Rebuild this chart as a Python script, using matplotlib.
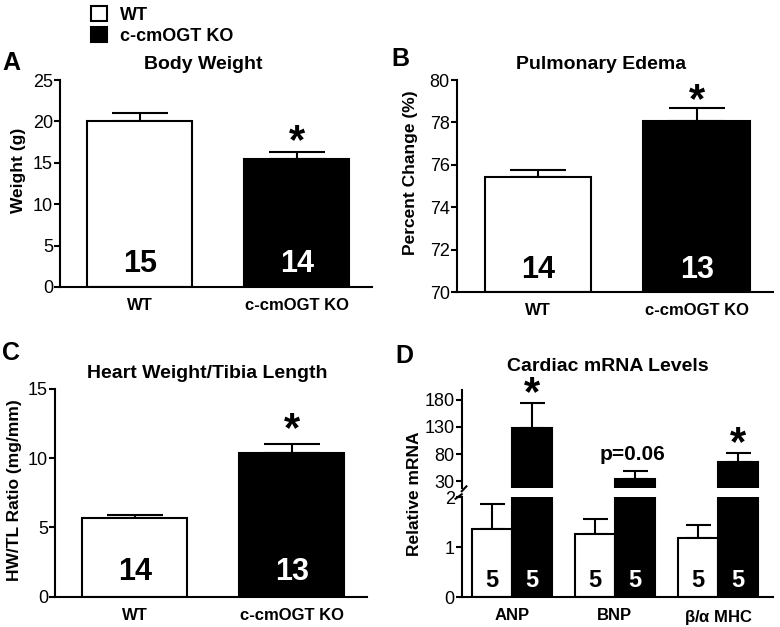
import matplotlib
matplotlib.use("Agg")
import matplotlib.pyplot as plt
import numpy as np

plt.rcParams['font.family'] = ['Liberation Sans', 'DejaVu Sans']
plt.rcParams['mathtext.fontset'] = 'custom'
plt.rcParams['mathtext.rm'] = 'Liberation Sans'

groups = ["WT", "c-cmOGT KO"]

# panel A - body weight
bw_mean = [20.1, 15.4]
bw_sem = [0.9, 0.9]
bw_n = [15, 14]

# panel B - pulmonary edema
pe_mean = [75.42, 78.05]
pe_sem = [0.35, 0.65]
pe_n = [14, 13]

# panel C - HW/TL
hw_mean = [5.7, 10.38]
hw_sem = [0.22, 0.67]
hw_n = [14, 13]

# panel D - cardiac mRNA
genes = ["ANP", "BNP", r"$\mathregular{\beta/\alpha}$ MHC"]
wt_mrna = [1.37, 1.26, 1.19]
wt_mrna_sem = [0.49, 0.30, 0.25]
ko_mrna = [128.7, 34.3, 64.6]
ko_mrna_sem = [45.0, 13.7, 16.7]
mrna_n = [5, 5, 5]
marks = ["*", "p=0.06", "*"]

colors = ["white", "black"]
LW = 1.5


def style(ax):
    for s in ["top", "right"]:
        ax.spines[s].set_visible(False)
    ax.spines["left"].set_linewidth(LW)
    ax.spines["bottom"].set_linewidth(LW)
    ax.tick_params(axis="y", length=4, width=LW, labelsize=13, pad=1)
    ax.tick_params(axis="x", length=0, labelsize=12, pad=8)
    for lab in ax.get_xticklabels():
        lab.set_fontweight("bold")


def two_bar(ax, mean, sem, n, title, title_x, ylabel, ylim, yticks, star_pos, npos, labxy):
    x = np.arange(2)
    bars = ax.bar(x, np.array(mean) - ylim[0], bottom=ylim[0], width=0.67,
                  color=colors, edgecolor="black", linewidth=LW, zorder=2)
    ax.errorbar(x, mean, yerr=[np.zeros(2), sem], fmt="none", ecolor="black",
                elinewidth=LW, capsize=20, capthick=LW, zorder=1)
    ax.set_xlim(-0.51, 1.48)
    ax.set_ylim(*ylim)
    ax.set_yticks(yticks)
    ax.set_xticks(x)
    ax.set_xticklabels(groups)
    ax.set_title(title, fontsize=14, fontweight="bold", pad=8, x=title_x)
    ax.set_ylabel(ylabel, fontsize=12.5, fontweight="bold")
    ax.yaxis.set_label_coords(*labxy)
    for i in range(2):
        ax.text(x[i], npos, str(n[i]), transform=ax.get_xaxis_transform(),
                ha="center", va="center", fontsize=22, fontweight="bold",
                color="white" if i == 1 else "black")
    ax.text(1, mean[1] + sem[1] + star_pos, "*", ha="center", va="center",
            fontsize=30, fontweight="bold")
    style(ax)
    return bars


fig = plt.figure(figsize=(7.8, 6.27), dpi=100)

axA = fig.add_axes([0.0769, 0.5423, 0.4001, 0.3301])
barsA = two_bar(axA, bw_mean, bw_sem, bw_n, "Body Weight", 0.46, "Weight (g)",
                (0, 25), [0, 5, 10, 15, 20, 25], 1.2, 0.11, (-0.11, 0.565))

axB = fig.add_axes([0.5855, 0.5338, 0.4055, 0.3386])
two_bar(axB, pe_mean, pe_sem, pe_n, "Pulmonary Edema", 0.456, "Percent Change (%)",
        (70, 80), [70, 72, 74, 76, 78, 80], 0.3, 0.105, (-0.122, 0.564))

axC = fig.add_axes([0.0705, 0.0483, 0.4000, 0.3313])
two_bar(axC, hw_mean, hw_sem, hw_n, "Heart Weight/Tibia Length", 0.487,
        "HW/TL Ratio (mg/mm)", (0, 15), [0, 5, 10, 15], 1.0, 0.12, (-0.107, 0.514))

# panel D with broken axis
axDl = fig.add_axes([0.592, 0.0474, 0.399, 0.1595])
axDu = fig.add_axes([0.592, 0.2212, 0.399, 0.1568])
xg = np.arange(3)
bw = 0.39
axDl.bar(xg - bw / 2, wt_mrna, width=bw, color="white", edgecolor="black",
         linewidth=LW, zorder=2)
axDl.bar(xg + bw / 2, ko_mrna, width=bw, color="black", edgecolor="black",
         linewidth=LW, zorder=2)
axDu.bar(xg + bw / 2, np.array(ko_mrna) - 16.5, bottom=16.5, width=bw,
         color="black", edgecolor="black", linewidth=LW, zorder=2)
for ax in (axDl, axDu):
    ax.set_xlim(-0.485, 2.533)
    style(ax)
axDl.errorbar(xg - bw / 2, wt_mrna, yerr=[np.zeros(3), wt_mrna_sem], fmt="none",
              ecolor="black", elinewidth=LW, capsize=9, capthick=LW, zorder=1)
axDu.errorbar(xg + bw / 2, ko_mrna, yerr=[np.zeros(3), ko_mrna_sem], fmt="none",
              ecolor="black", elinewidth=LW, capsize=9, capthick=LW, zorder=1)
axDl.set_ylim(0, 2)
axDl.set_yticks([0, 1, 2])
axDu.set_ylim(16.5, 198.5)
axDu.set_yticks([30, 80, 130, 180])
axDu.spines["bottom"].set_visible(False)
axDu.set_xticks([])
axDl.set_xticks(xg)
axDl.set_xticklabels(genes)
for lab in axDl.get_xticklabels():
    lab.set_fontweight("bold")
for i in range(3):
    axDl.text(xg[i] - bw / 2, 0.17, str(mrna_n[i]), transform=axDl.get_xaxis_transform(),
              ha="center", va="center", fontsize=17, fontweight="bold")
    axDl.text(xg[i] + bw / 2, 0.17, str(mrna_n[i]), transform=axDl.get_xaxis_transform(),
              ha="center", va="center", fontsize=17, fontweight="bold",
              color="white")
    top = ko_mrna[i] + ko_mrna_sem[i]
    if marks[i] == "*":
        axDu.text(xg[i] + bw / 2, top + 18, "*", ha="center", va="center",
                  fontsize=30, fontweight="bold")
    else:
        axDu.text(xg[i] + bw / 2 - 0.02, top + 32, marks[i], ha="center",
                  va="center", fontsize=15, fontweight="bold")
axDu.set_title("Cardiac mRNA Levels", fontsize=14, fontweight="bold", pad=14, x=0.468)
# break marks on left spine
axDl.plot([-0.02, 0.0], [0.985, 1.03], transform=axDl.transAxes, color="black",
          lw=LW, clip_on=False)
axDu.plot([0.0, 0.015], [-0.03, 0.02], transform=axDu.transAxes, color="black",
          lw=LW, clip_on=False)
fig.text(0.532, 1 - 494 / 627, "Relative mRNA", rotation=90, ha="center",
         va="center", fontsize=12.5, fontweight="bold")

# panel letters
fig.text(0.003, 1 - 63 / 627, "A", fontsize=18, fontweight="bold", va="center")
fig.text(0.502, 1 - 59 / 627, "B", fontsize=18, fontweight="bold", va="center")
fig.text(0.002, 1 - 353 / 627, "C", fontsize=18, fontweight="bold", va="center")
fig.text(0.507, 1 - 356 / 627, "D", fontsize=18, fontweight="bold", va="center")

fig.legend(barsA, groups, loc="upper left", bbox_to_anchor=(0.1, 1.01),
           frameon=False, prop={"weight": "bold", "size": 13},
           handlelength=0.9, handleheight=0.9, handletextpad=0.7,
           labelspacing=0.15, borderpad=0.2)

fig.savefig("out.png", dpi=100)
